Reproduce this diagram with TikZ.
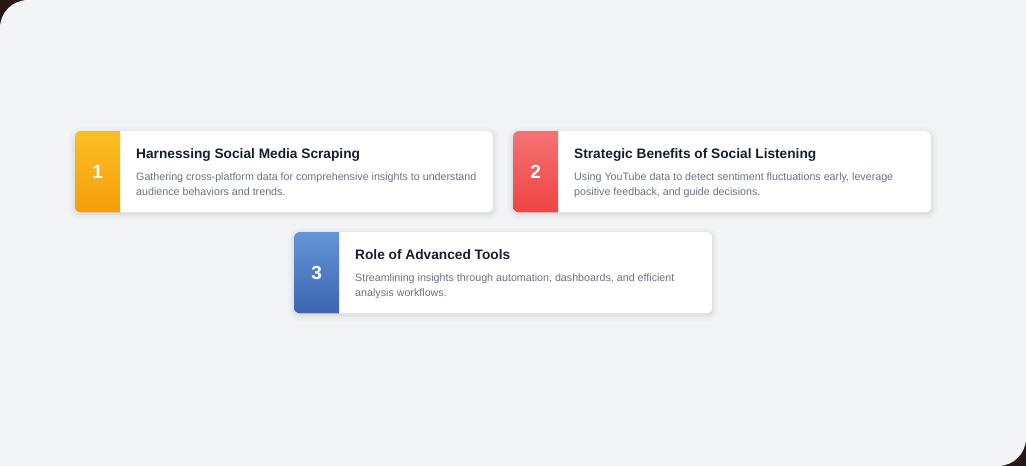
\documentclass[tikz,border=0pt]{standalone}
\usepackage{fontspec}
\setmainfont{Liberation Sans}
\usetikzlibrary{positioning}
\definecolor{pagebg}{RGB}{243,244,246}
\definecolor{cornerc}{RGB}{43,20,22}
\definecolor{titlec}{RGB}{23,30,45}
\definecolor{descc}{RGB}{107,114,128}
\definecolor{ambtop}{RGB}{251,191,36}
\definecolor{ambbot}{RGB}{245,158,11}
\definecolor{redtop}{RGB}{246,114,116}
\definecolor{redbot}{RGB}{239,68,68}
\definecolor{blutop}{RGB}{100,150,214}
\definecolor{blubot}{RGB}{60,100,178}
\begin{document}
\begin{tikzpicture}[x=1pt,y=-1pt,
  card/.style={fill=white,rounded corners=6pt,minimum width=418pt,minimum height=81pt,
    anchor=north west,inner sep=0pt,
    preaction={draw=black,draw opacity=0.018,line width=12pt,transform canvas={yshift=-2pt}},
    preaction={draw=black,draw opacity=0.025,line width=7pt,transform canvas={yshift=-2pt}},
    preaction={draw=black,draw opacity=0.035,line width=3pt,transform canvas={yshift=-1.5pt}}},
  numbox/.style={minimum width=45pt,minimum height=81pt,anchor=north west,inner sep=0pt,
    text=white,font=\fontsize{19}{22}\selectfont\bfseries},
  heading/.style={anchor=base west,inner sep=0pt,text=titlec,font=\fontsize{13.7}{16}\selectfont\bfseries},
  blurb/.style={anchor=base west,inner sep=0pt,align=left,text=descc,font=\fontsize{10.7}{15}\selectfont}]
\useasboundingbox (0,0) rectangle (1026,466);
% page
\fill[cornerc] (0,0) rectangle (1026,466);
\fill[pagebg, rounded corners=28pt] (0,0) rectangle (1026,466);
\fill[pagebg] (990,0) rectangle (1026,40);
\fill[pagebg] (0,430) rectangle (40,466);

% card 1
\node[card] (card1) at (75,131) {};
\begin{scope}
\clip[rounded corners=6pt] (card1.north west) rectangle (card1.south east);
\shade[top color=ambtop,bottom color=ambbot] (card1.north west) rectangle ++(45,81);
\end{scope}
\node[numbox] (num1) at (card1.north west) {1};
\node[heading] (head1) at (136,158) {Harnessing Social Media Scraping};
\node[blurb] (text1) at (136,195) {Gathering cross-platform data for comprehensive insights to understand\\audience behaviors and trends.};

% card 2
\node[card] (card2) at (513,131) {};
\begin{scope}
\clip[rounded corners=6pt] (card2.north west) rectangle (card2.south east);
\shade[top color=redtop,bottom color=redbot] (card2.north west) rectangle ++(45,81);
\end{scope}
\node[numbox] (num2) at (card2.north west) {2};
\node[heading] (head2) at (574,158) {Strategic Benefits of Social Listening};
\node[blurb] (text2) at (574,195) {Using YouTube data to detect sentiment fluctuations early, leverage\\positive feedback, and guide decisions.};

% card 3
\node[card] (card3) at (294,232) {};
\begin{scope}
\clip[rounded corners=6pt] (card3.north west) rectangle (card3.south east);
\shade[top color=blutop,bottom color=blubot] (card3.north west) rectangle ++(45,81);
\end{scope}
\node[numbox] (num3) at (card3.north west) {3};
\node[heading] (head3) at (355,259) {Role of Advanced Tools};
\node[blurb] (text3) at (355,296) {Streamlining insights through automation, dashboards, and efficient\\analysis workflows.};
\end{tikzpicture}
\end{document}
